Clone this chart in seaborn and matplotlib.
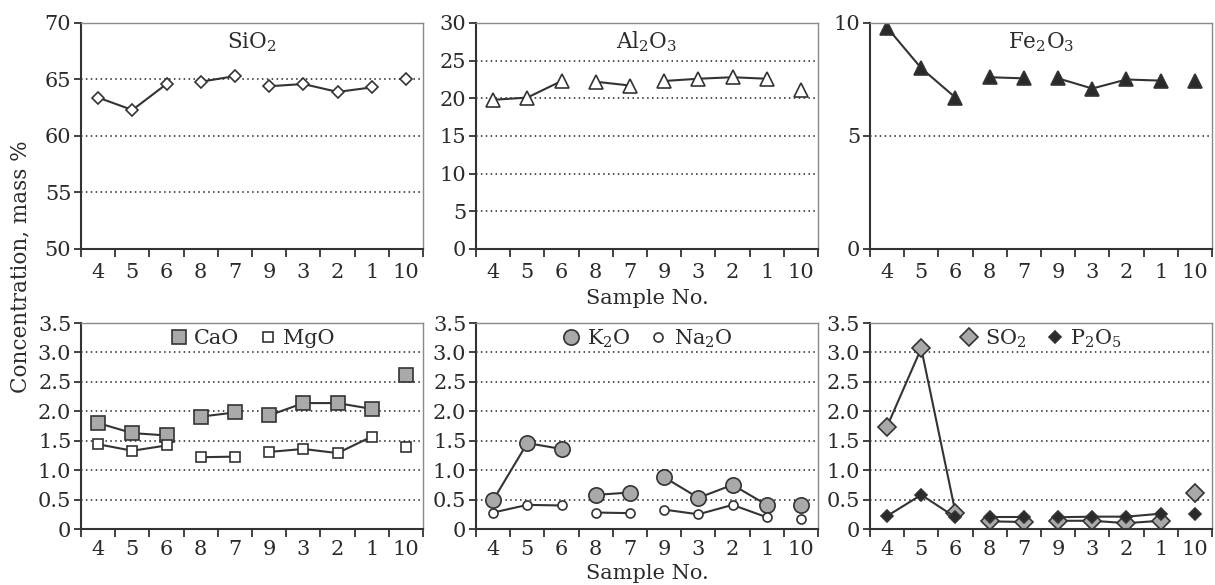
import numpy as np
import pandas as pd
import seaborn as sns
from matplotlib import pyplot as plt
from matplotlib.lines import Line2D

# sample order along the x axis and which connected segment each point belongs to
samples = ['4', '5', '6', '8', '7', '9', '3', '2', '1', '10']
segment = [0, 0, 0, 1, 1, 2, 2, 2, 2, 3]

sio2 = [63.4, 62.3, 64.6, 64.8, 65.3, 64.4, 64.6, 63.9, 64.3, 65.0]
al2o3 = [19.8, 20.1, 22.3, 22.2, 21.7, 22.3, 22.6, 22.8, 22.6, 21.1]
fe2o3 = [9.8, 8.0, 6.7, 7.6, 7.55, 7.55, 7.1, 7.5, 7.45, 7.45]
cao = [1.80, 1.63, 1.59, 1.91, 1.98, 1.93, 2.14, 2.14, 2.04, 2.62]
mgo = [1.44, 1.33, 1.42, 1.22, 1.23, 1.31, 1.36, 1.29, 1.57, 1.39]
k2o = [0.49, 1.46, 1.36, 0.58, 0.62, 0.88, 0.53, 0.75, 0.41, 0.40]
na2o = [0.28, 0.41, 0.40, 0.28, 0.27, 0.33, 0.25, 0.41, 0.20, 0.17]
so2 = [1.74, 3.07, 0.28, 0.13, 0.12, 0.14, 0.14, 0.10, 0.14, 0.61]
p2o5 = [0.22, 0.58, 0.20, 0.20, 0.20, 0.20, 0.21, 0.21, 0.26, 0.26]

df = pd.DataFrame({'pos': np.arange(len(samples)), 'seg': segment,
                   'SiO2': sio2, 'Al2O3': al2o3, 'Fe2O3': fe2o3,
                   'CaO': cao, 'MgO': mgo, 'K2O': k2o, 'Na2O': na2o,
                   'SO2': so2, 'P2O5': p2o5})

sns.set_theme(style='white')
plt.rcParams['font.family'] = ['DejaVu Serif']
plt.rcParams['mathtext.fontset'] = 'dejavuserif'
plt.rcParams['mathtext.default'] = 'regular'
plt.rcParams['text.color'] = '#2b2b2b'
plt.rcParams['xtick.color'] = '#2b2b2b'
plt.rcParams['ytick.color'] = '#2b2b2b'

INK = '#333333'
GREY = '#a9a9a9'
DARK = '#2a2a2a'
FS = 15

fig = plt.figure(figsize=(12.15, 5.85), dpi=100)
lefts = [0.0667, 0.3918, 0.716]
w = 0.2815
top_row = [fig.add_axes([l, 0.5744, w, 0.3863]) for l in lefts]
bot_row = [fig.add_axes([l, 0.0957, w, 0.3521]) for l in lefts]


def draw(ax, col, marker, ms, face):
    sns.lineplot(data=df, x='pos', y=col, units='seg', estimator=None, ax=ax,
                 color=INK, lw=1.5, marker=marker, markersize=ms,
                 markerfacecolor=face, markeredgecolor=INK,
                 markeredgewidth=1.2, legend=False)


def style(ax, ylim, step, fmt, pad=10):
    ax.set_xlim(-0.5, len(samples) - 0.5)
    ax.set_xticks(np.arange(-0.5, len(samples), 1))
    ax.set_xticklabels([])
    ax.set_xticks(np.arange(len(samples)), minor=True)
    ax.set_xticklabels(samples, minor=True, fontsize=FS)
    ax.tick_params(axis='x', which='major', direction='out', length=6,
                   width=1.3, color=INK, bottom=True)
    ax.tick_params(axis='x', which='minor', length=0, pad=pad)
    ax.set_ylim(*ylim)
    yt = np.arange(ylim[0], ylim[1] + step / 2, step)
    ax.set_yticks(yt)
    ax.set_yticklabels([fmt(v) for v in yt], fontsize=FS)
    ax.tick_params(axis='y', direction='out', length=5, width=1.3,
                   color=INK, left=True, pad=2)
    ax.yaxis.grid(True, linestyle=(0, (1, 2.2)), color='#222222', lw=1.1)
    gl = ax.get_ygridlines()
    gl[0].set_visible(False)
    gl[-1].set_visible(False)
    ax.set_xlabel('')
    ax.set_ylabel('')
    for s in ['left', 'bottom']:
        ax.spines[s].set_color(INK)
        ax.spines[s].set_linewidth(1.5)
    for s in ['top', 'right']:
        ax.spines[s].set_color('#8a8a8a')
        ax.spines[s].set_linewidth(1.0)


def title(ax, txt):
    ax.text(0.5, 0.915, txt, transform=ax.transAxes, ha='center',
            va='center', fontsize=FS + 0.5)


def legend(ax, items):
    handles = [Line2D([], [], ls='none', marker=m, ms=ms, markerfacecolor=f,
                      markeredgecolor=INK, markeredgewidth=1.2)
               for m, ms, f, _ in items]
    ax.legend(handles, [t for _, _, _, t in items], loc='center',
              bbox_to_anchor=(0.5, 0.925), ncol=2, frameon=False,
              fontsize=FS, handlelength=0.9, handletextpad=0.3,
              columnspacing=0.9)


ints = lambda v: '%d' % v
decs = lambda v: '0' if v == 0 else '%.1f' % v

# top row
draw(top_row[0], 'SiO2', 'D', 6.5, 'white')
style(top_row[0], (50, 70), 5, ints)
title(top_row[0], r'SiO$_2$')

draw(top_row[1], 'Al2O3', '^', 10, 'white')
style(top_row[1], (0, 30), 5, ints)
title(top_row[1], r'Al$_2$O$_3$')

draw(top_row[2], 'Fe2O3', '^', 10, DARK)
style(top_row[2], (0, 10), 5, ints)
title(top_row[2], r'Fe$_2$O$_3$')

# bottom row
draw(bot_row[0], 'CaO', 's', 10, GREY)
draw(bot_row[0], 'MgO', 's', 6.5, 'white')
style(bot_row[0], (0, 3.5), 0.5, decs, pad=8)
legend(bot_row[0], [('s', 10, GREY, 'CaO'), ('s', 6.5, 'white', 'MgO')])

draw(bot_row[1], 'K2O', 'o', 11, GREY)
draw(bot_row[1], 'Na2O', 'o', 6.5, 'white')
style(bot_row[1], (0, 3.5), 0.5, decs, pad=8)
legend(bot_row[1], [('o', 11, GREY, r'K$_2$O'), ('o', 6.5, 'white', r'Na$_2$O')])

draw(bot_row[2], 'SO2', 'D', 9, GREY)
draw(bot_row[2], 'P2O5', 'D', 6, DARK)
style(bot_row[2], (0, 3.5), 0.5, decs, pad=8)
legend(bot_row[2], [('D', 9, GREY, r'SO$_2$'), ('D', 6, DARK, r'P$_2$O$_5$')])

fig.text(0.5325, 0.49, 'Sample No.', ha='center', va='center', fontsize=FS)
fig.text(0.5325, 0.02, 'Sample No.', ha='center', va='center', fontsize=FS)
fig.text(0.017, 0.544, 'Concentration, mass %', rotation=90, ha='center',
         va='center', fontsize=15.5)

fig.savefig('out.png', dpi=100, facecolor='white')
